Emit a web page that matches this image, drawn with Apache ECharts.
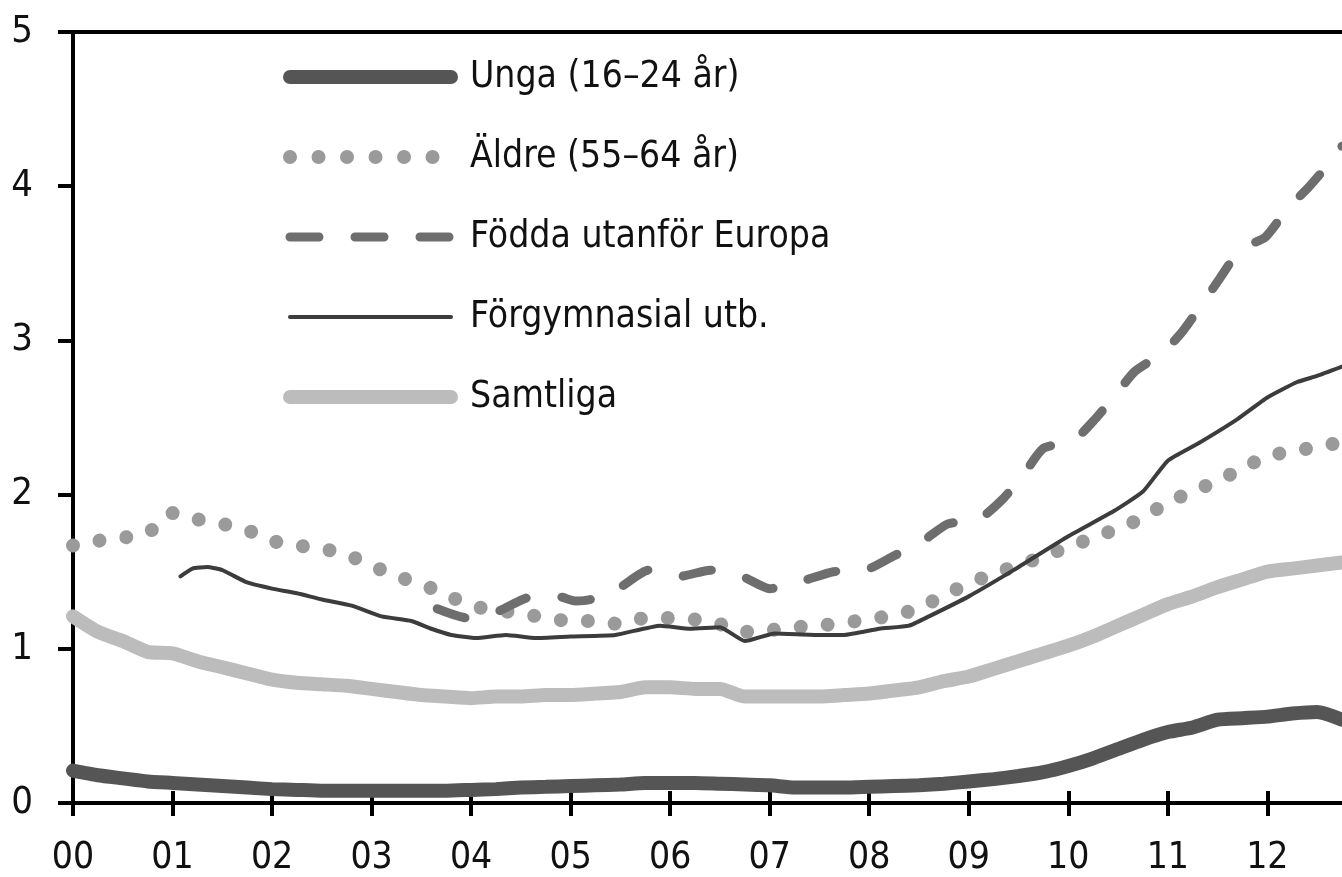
<!DOCTYPE html>
<html>
<head>
    <meta charset="utf-8">
    <title>Arbetslöshet</title>
    <style>
        html, body {margin:0;padding:0;background:#fff;}
        #chart {width:1342px;height:877px;}
    </style>
</head>
<body>
<div id="chart"></div>
<script src="https://cdn.jsdelivr.net/npm/echarts@6.0.0/dist/echarts.min.js"></script>
<script>
    // x in år (00 = 2000), kvartalsvis
    var quarters = [0, 0.25, 0.5, 0.75, 1, 1.25, 1.5, 1.75, 2, 2.25, 2.5, 2.75, 3, 3.25, 3.5, 3.75,
        4, 4.25, 4.5, 4.75, 5, 5.25, 5.5, 5.75, 6, 6.25, 6.5, 6.75, 7, 7.25, 7.5, 7.75,
        8, 8.25, 8.5, 8.75, 9, 9.25, 9.5, 9.75, 10, 10.25, 10.5, 10.75, 11, 11.25, 11.5, 11.75,
        12, 12.25, 12.5, 12.75];
    var yearLabels = ['00','01','02','03','04','05','06','07','08','09','10','11','12'];
    var names = ['Unga (16–24 år)', 'Äldre (55–64 år)', 'Födda utanför Europa', 'Förgymnasial utb.', 'Samtliga'];

    var unga = [0.21, 0.18, 0.16, 0.14, 0.13, 0.12, 0.11, 0.10, 0.09, 0.085, 0.08, 0.08, 0.08, 0.08, 0.08, 0.08,
        0.085, 0.09, 0.10, 0.105, 0.11, 0.115, 0.12, 0.13, 0.13, 0.13, 0.125, 0.12, 0.115, 0.10, 0.10, 0.10,
        0.105, 0.11, 0.115, 0.125, 0.14, 0.155, 0.175, 0.20, 0.24, 0.29, 0.35, 0.41, 0.46, 0.49, 0.54, 0.55,
        0.56, 0.58, 0.59, 0.54];
    var aldre = [1.67, 1.70, 1.72, 1.75, 1.88, 1.84, 1.81, 1.77, 1.70, 1.67, 1.65, 1.61, 1.54, 1.47, 1.42, 1.35,
        1.28, 1.25, 1.23, 1.20, 1.18, 1.18, 1.16, 1.20, 1.20, 1.19, 1.16, 1.11, 1.12, 1.14, 1.15, 1.17,
        1.19, 1.22, 1.26, 1.35, 1.42, 1.49, 1.54, 1.60, 1.66, 1.72, 1.78, 1.85, 1.95, 2.02, 2.09, 2.17,
        2.25, 2.28, 2.31, 2.34];
    var samtliga = [1.21, 1.11, 1.05, 0.98, 0.97, 0.92, 0.88, 0.84, 0.80, 0.78, 0.77, 0.76, 0.74, 0.72, 0.70, 0.69,
        0.68, 0.69, 0.69, 0.70, 0.70, 0.71, 0.72, 0.75, 0.75, 0.74, 0.74, 0.69, 0.69, 0.69, 0.69, 0.70,
        0.71, 0.73, 0.75, 0.79, 0.82, 0.87, 0.92, 0.97, 1.02, 1.08, 1.15, 1.22, 1.29, 1.34, 1.40, 1.45,
        1.50, 1.52, 1.54, 1.56];
    // [år, värde]
    var forgymnasial = [[1.08,1.47],[1.2,1.52],[1.35,1.53],[1.5,1.51],[1.75,1.43],[2.0,1.39],[2.25,1.36],
        [2.5,1.32],[2.8,1.28],[3.1,1.21],[3.4,1.18],[3.6,1.13],[3.8,1.09],[4.05,1.07],[4.35,1.09],[4.65,1.07],
        [5.0,1.08],[5.45,1.09],[5.9,1.15],[6.2,1.13],[6.5,1.14],[6.75,1.05],[7.05,1.10],[7.5,1.09],[7.75,1.09],
        [8.1,1.13],[8.4,1.15],[8.6,1.21],[9.0,1.34],[9.45,1.51],[10.0,1.73],[10.45,1.89],[10.75,2.02],
        [11.0,2.22],[11.3,2.33],[11.7,2.49],[12.0,2.63],[12.3,2.73],[12.5,2.77],[12.75,2.83]];
    var fodda = [[3.66,1.26],[3.96,1.20],[4.26,1.24],[4.56,1.33],[4.87,1.34],[5.05,1.31],[5.2,1.32],[5.5,1.40],
        [5.78,1.51],[6.1,1.47],[6.4,1.51],[6.72,1.47],[7.0,1.39],[7.33,1.44],[7.64,1.50],[7.96,1.51],[8.24,1.60],
        [8.54,1.70],[8.79,1.81],[9.1,1.84],[9.34,1.97],[9.55,2.13],[9.75,2.30],[10.05,2.35],[10.27,2.49],
        [10.49,2.66],[10.67,2.80],[10.95,2.92],[11.15,3.06],[11.36,3.25],[11.53,3.41],[11.73,3.59],[11.98,3.67],
        [12.21,3.86],[12.41,3.99],[12.65,4.17],[12.75,4.26]];

    function pairs(xs, ys) {
        return xs.map(function (x, i) { return [x, ys[i]]; });
    }

    var font = '"Liberation Sans Narrow", "DejaVu Sans Condensed", "Liberation Sans", sans-serif';
    var tickVals = yearLabels.map(function (s, i) { return i; });

    var myChart = echarts.init(document.getElementById('chart'));
    myChart.setOption({
        animation: false,
        grid: {left: 73, right: 0, top: 32, bottom: 72},
        legend: {
            orient: 'vertical',
            left: 283,
            top: 55,
            padding: 0,
            itemWidth: 161,
            itemHeight: 14,
            itemGap: 36,
            data: [
                names[0],
                {name: names[1], lineStyle: {type: [0.01, 28.5]}},
                names[2],
                names[3],
                names[4]
            ],
            textStyle: {fontFamily: font, fontSize: 37, lineHeight: 44, color: '#111', padding: [0, 0, 0, 14]},
            lineStyle: {width: 'inherit'},
            itemStyle: {opacity: 0}
        },
        xAxis: [
            {
                type: 'value', min: 0, max: 12.75, position: 'bottom',
                splitLine: {show: false},
                axisLine: {lineStyle: {color: '#000', width: 4}},
                axisTick: {inside: true, length: 12, customValues: tickVals, lineStyle: {color: '#000', width: 4}},
                axisLabel: {
                    customValues: tickVals, margin: 37,
                    fontFamily: font, fontSize: 37, color: '#111',
                    formatter: function (v) { return yearLabels[Math.round(v)]; }
                }
            },
            {
                type: 'value', min: 0, max: 12.75, position: 'bottom',
                splitLine: {show: false},
                axisLine: {show: false},
                axisTick: {inside: false, length: 13, customValues: tickVals, lineStyle: {color: '#000', width: 4}},
                axisLabel: {show: false}
            },
            {
                type: 'value', min: 0, max: 12.75, position: 'top',
                splitLine: {show: false},
                axisLine: {lineStyle: {color: '#000', width: 4}},
                axisTick: {show: false},
                axisLabel: {show: false}
            }
        ],
        yAxis: {
            type: 'value', min: 0, max: 5, interval: 1,
            splitLine: {show: false},
            axisLine: {show: true, lineStyle: {color: '#000', width: 4}},
            axisTick: {show: true, length: 15, lineStyle: {color: '#000', width: 4}},
            axisLabel: {margin: 40, fontFamily: font, fontSize: 38, color: '#111'}
        },
        series: [
            {
                name: 'Samtliga', type: 'line', symbol: 'none', smooth: 0.2,
                lineStyle: {color: '#bcbcbc', width: 14, cap: 'round'},
                itemStyle: {color: '#bcbcbc'},
                data: pairs(quarters, samtliga)
            },
            {
                name: 'Unga (16–24 år)', type: 'line', symbol: 'none', smooth: 0.2,
                lineStyle: {color: '#555555', width: 14, cap: 'round'},
                itemStyle: {color: '#555555'},
                data: pairs(quarters, unga)
            },
            {
                name: 'Äldre (55–64 år)', type: 'line', symbol: 'none', smooth: 0.2,
                lineStyle: {color: '#9a9a9a', width: 14, cap: 'round', type: [0.01, 27]},
                itemStyle: {color: '#9a9a9a'},
                data: pairs(quarters, aldre)
            },
            {
                name: 'Födda utanför Europa', type: 'line', symbol: 'none', smooth: 0.2,
                lineStyle: {color: '#6e6e6e', width: 9, cap: 'round', type: [29, 36]},
                itemStyle: {color: '#6e6e6e'},
                data: fodda
            },
            {
                name: 'Förgymnasial utb.', type: 'line', symbol: 'none', smooth: 0.15,
                lineStyle: {color: '#3c3c3c', width: 4, cap: 'round'},
                itemStyle: {color: '#3c3c3c'},
                data: forgymnasial
            }
        ]
    });
</script>
</body>
</html>
